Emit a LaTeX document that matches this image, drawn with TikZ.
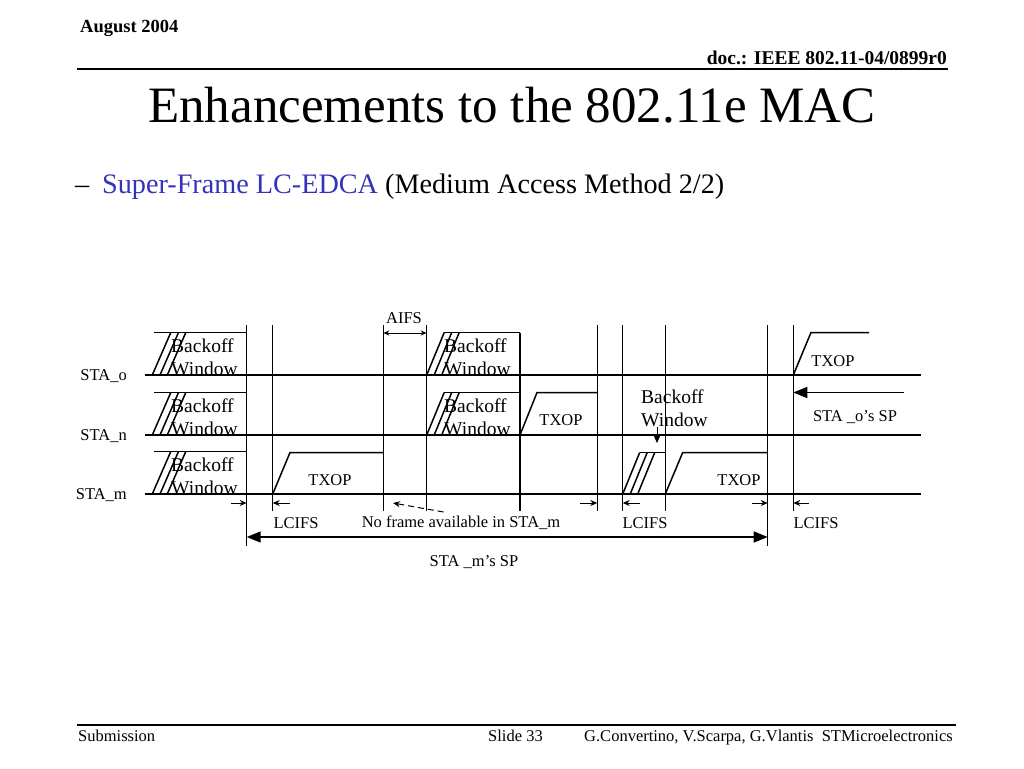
\documentclass[tikz,border=0pt]{standalone}
\usepackage{fontspec}
\setmainfont{Liberation Serif}
\usetikzlibrary{arrows.meta, positioning, calc}
\definecolor{slideblue}{RGB}{51,51,187}

\begin{document}
\begin{tikzpicture}[
    x=1pt, y=-1pt,
    every node/.style={inner sep=0pt},
    sig/.style={line width=1.5pt},
    rule/.style={line width=2pt},
    gaparrow/.style={-{Stealth[length=7pt,width=6pt]}, line width=1pt},
    span/.style={{Triangle[length=14pt,width=11pt]}-{Triangle[length=14pt,width=11pt]}, line width=1.5pt},
    lbl/.style={font=\fontsize{16.5}{18}\selectfont},
    bw/.style={font=\fontsize{19.5}{23}\selectfont, align=left, anchor=base west},
]
\useasboundingbox (0,0) rectangle (1024,768);

% Slide header and footer
\node[font=\fontsize{18.5}{20}\selectfont\bfseries, anchor=base west] (date) at (80,33) {August 2004};
\node[font=\fontsize{19.5}{20}\selectfont\bfseries, anchor=base east] (doc) at (947,64) {doc.: IEEE 802.11-04/0899r0};
\draw[rule] (77,68.5) -- (948,68.5);
\draw[rule] (77,724.5) -- (956,724.5);
\node[font=\fontsize{16.5}{18}\selectfont, anchor=base west] (sub) at (78,741) {Submission};
\node[font=\fontsize{16.5}{18}\selectfont, anchor=base west] (slide) at (488,741) {Slide 33};
\node[font=\fontsize{16.5}{18}\selectfont, anchor=base west] (authors) at (584,741) {G.Convertino, V.Scarpa, G.Vlantis\ \ STMicroelectronics};

% Title and bullet
\node[font=\fontsize{51}{55}\selectfont, anchor=base] (title) at (512,122) {Enhancements to the 802.11e MAC};
\node[font=\fontsize{28.2}{30}\selectfont, anchor=base west] (dash) at (75,193) {–};
\node[font=\fontsize{28.2}{30}\selectfont, anchor=base west] (bullet) at (102,193)
    {\textcolor{slideblue}{Super-Frame LC-EDCA} (Medium Access Method 2/2)};

% Time marks (x only) and station levels (y only)
\foreach \n/\x in {0/246.7, 1/272.7, 2/383.3, 3/426.7, 4/520, 5/597.3, 6/622.7, 7/665.3, 8/767.7, 9/793.3}
  \coordinate (t\n) at (\x,0);
\coordinate (o) at (0,375);
\coordinate (n) at (0,435);
\coordinate (m) at (0,494);

% Station lines
\foreach \r in {o,n,m}
  \draw[sig] ($(\r)+(145,0)$) -- ($(\r)+(921,0)$);
\node[lbl, anchor=east] (stao) at (127,376) {STA\_o};
\node[lbl, anchor=east] (stan) at (127,436) {STA\_n};
\node[lbl, anchor=east] (stam) at (127,495) {STA\_m};

% Slot boundaries
\foreach \n in {1,2,3,5,6,7,9}
  \draw[sig] ($(t\n)+(0,325)$) -- ($(t\n)+(0,511)$);
\draw[sig] ($(t0)+(0,325)$) -- ($(t0)+(0,546)$);
\draw[sig] ($(t8)+(0,325)$) -- ($(t8)+(0,546)$);
\draw[sig] ($(t4)+(0,332.5)$) -- ($(t4)+(0,511)$);

% Backoff windows: first slot, all stations
\foreach \y in {375,435,494} {
  \draw[sig] (154,\y-42.5) -- (246.7,\y-42.5);
  \foreach \dx in {0,7.7,15}
    \draw[sig] (152.3+\dx,\y) -- ++(18.5,-42.5);
}
\node[bw] (bwo1) at (171,375) {Backoff\\Window};
\node[bw] (bwn1) at (171,435) {Backoff\\Window};
\node[bw] (bwm1) at (171,494) {Backoff\\Window};

% Backoff windows after AIFS, STA_o and STA_n
\foreach \y in {375,435} {
  \draw[sig] (444,\y-42.5) -- (520,\y-42.5);
  \foreach \dx in {0,7.5,15}
    \draw[sig] (426.7+\dx,\y) -- ++(17.5,-42.5);
}
\node[bw] (bwo2) at (444,375) {Backoff\\Window};
\node[bw] (bwn2) at (444,435) {Backoff\\Window};

% Backoff window of STA_m after LCIFS
\draw[sig] (640,452.5) -- (t7 |- 0,452.5);
\foreach \dx in {0,7.5,15}
  \draw[sig] (622.7+\dx,494) -- ++(17,-41.5);
\node[bw] (bwm3) at (641,426) {Backoff\\Window};
\coordinate (bwtip) at (657,443);
\draw[line width=0.7pt, -{Triangle[length=8pt,width=7pt]}] (657,427) -- (bwtip);

% TXOPs
\draw[sig] (t1 |- m) -- (290,452.5) -- (t2 |- 0,452.5);
\draw[sig] (t4 |- n) -- (537,392.5) -- (t5 |- 0,392.5);
\draw[sig] (t7 |- m) -- (682.7,452.5) -- (t8 |- 0,452.5);
\draw[sig] (t9 |- o) -- (811,332.5) -- (869,332.5);
\node[lbl] (txopm1) at (330,480) {TXOP};
\node[lbl] (txopn) at (561,420) {TXOP};
\node[lbl] (txopm2) at (739,480) {TXOP};
\node[lbl] (txopo) at (833,361) {TXOP};

% AIFS
\draw[line width=1pt, {Stealth[length=6pt,width=5pt]}-{Stealth[length=6pt,width=5pt]}]
  (t2 |- 0,333) -- (t3 |- 0,333);
\node[lbl] (aifs) at (404,318) {AIFS};

% LCIFS gaps
\draw[gaparrow] (231,503) -- (t0 |- 0,503);
\draw[gaparrow] (290,503) -- (t1 |- 0,503);
\draw[gaparrow] (580,503) -- (t5 |- 0,503);
\draw[gaparrow] (640,503) -- (t6 |- 0,503);
\draw[gaparrow] (751.6,503) -- (t8 |- 0,503);
\draw[gaparrow] (809,503) -- (t9 |- 0,503);
\node[lbl] (lcifs1) at (296,523) {LCIFS};
\node[lbl] (lcifs2) at (645,523) {LCIFS};
\node[lbl] (lcifs3) at (816,523) {LCIFS};
\draw[gaparrow, dash pattern=on 6pt off 4pt] (443.5,512) -- (393,503);
\node[lbl] (noframe) at (461,523) {No frame available in STA\_m};

% Service periods
\draw[span] (t0 |- 0,537) -- (t8 |- 0,537);
\node[lbl] (spm) at (474,562) {STA \_m’s SP};
\draw[line width=1.5pt, -{Triangle[length=14pt,width=11pt]}] (904,392.5) -- (t9 |- 0,392.5);
\node[lbl] (spo) at (855,417) {STA \_o’s SP};
\end{tikzpicture}
\end{document}
